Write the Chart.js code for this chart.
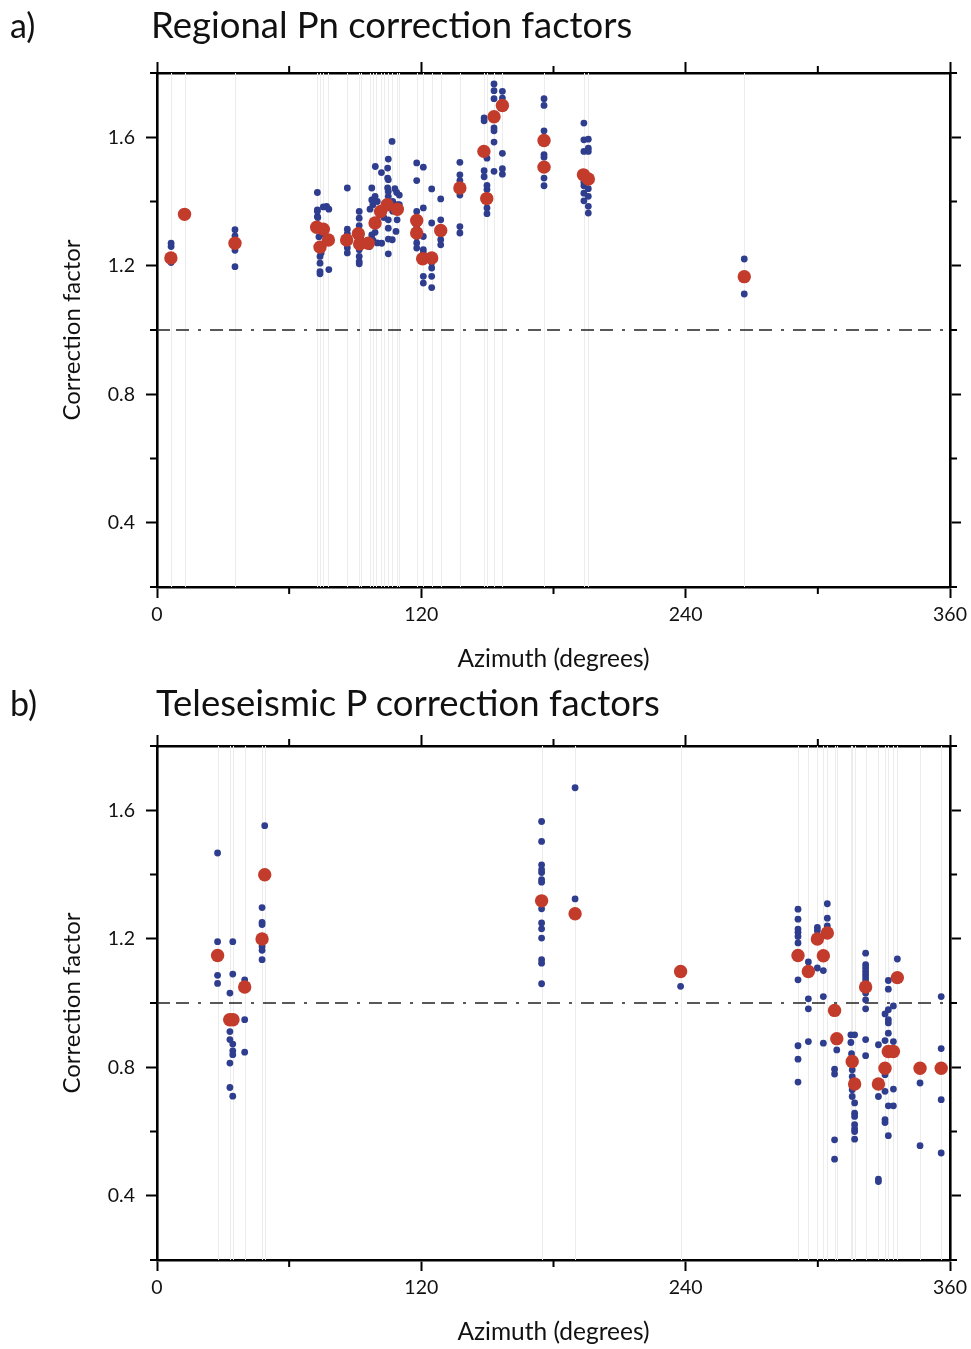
<!DOCTYPE html>
<html>
<head>
<meta charset="utf-8">
<script src="https://cdn.jsdelivr.net/npm/chart.js@4.4.0/dist/chart.umd.min.js"></script>
<style>
  body { margin: 0; background: #fff; font-family: Lato, sans-serif; }
  #page { position: relative; width: 971px; height: 1349px; }
  .panel { position: absolute; left: 0; width: 971px; height: 674px; }
  .panel canvas { position: absolute; left: 0; top: 0; }
  .letter, .heading { position: absolute; color: #111; white-space: nowrap; line-height: 1; }
  .letter { font-size: 34px; }
  .heading { font-size: 36.5px; }
</style>
</head>
<body>
<div id="page">
  <div class="panel" style="top:0">
    <canvas id="pnChart" width="971" height="674"></canvas>
    <div class="letter" style="left:10px;top:8px">a)</div>
    <div class="heading" style="left:151px;top:6px">Regional Pn correction factors</div>
  </div>
  <div class="panel" style="top:673px">
    <canvas id="pChart" width="971" height="674"></canvas>
    <div class="letter" style="left:10px;top:13px">b)</div>
    <div class="heading" style="left:156px;top:11px">Teleseismic P correction factors</div>
  </div>
</div>

<script>
// [azimuth, factor] per measurement, and station averages
const pnObs = [
  [6.4,1.27],[6.4,1.26],[6.4,1.21],
  [35.4,1.312],[35.4,1.293],[35.4,1.248],[35.4,1.197],
  [72.8,1.428],[72.8,1.374],[72.8,1.353],[72.8,1.37],[73,1.35],[75.5,1.383],[78,1.376],[77,1.385],
  [74.5,1.24],[74,1.229],[74,1.208],[74,1.182],[74,1.175],[78,1.188],[75.5,1.30],[73.5,1.29],[76,1.27],
  [86.4,1.442],[86.4,1.314],[86.4,1.256],[86.4,1.24],[86.4,1.30],
  [91.8,1.369],[91.8,1.348],[91.8,1.325],[91.8,1.25],[91.8,1.229],[91.8,1.213],[91.8,1.206],[92.5,1.29],[92.5,1.26],
  [96.7,1.376],[97.5,1.442],[99.1,1.509],[101.9,1.49],[97.5,1.405],[98,1.39],[100,1.40],[97.5,1.296],
  [96.5,1.26],[100,1.271],[98,1.28],[99,1.416],[101,1.36],[102,1.27],[99,1.304],
  [106.7,1.587],[105,1.532],[104.7,1.504],[104.7,1.473],[105,1.468],[104.7,1.442],[105,1.431],[105,1.416],
  [105,1.343],[105,1.317],[105,1.283],[105,1.237],[107,1.40],[107,1.37],
  [108.8,1.428],[109,1.39],[109.5,1.37],[109,1.343],[108.5,1.307],[106.8,1.281],[110,1.42],[108,1.44],[110,1.39],[103,1.35],[103,1.38],
  [117.9,1.52],[117.9,1.465],[117.9,1.369],[117.9,1.271],[117.9,1.255],[117.9,1.29],[117.9,1.32],
  [120.9,1.507],[120.9,1.38],[120.9,1.291],[120.9,1.167],[120.9,1.146],[120.9,1.25],[120.9,1.24],
  [124.7,1.439],[124.7,1.333],[124.7,1.193],[124.7,1.167],[124.7,1.132],[124.7,1.21],
  [128.8,1.408],[128.8,1.343],[128.8,1.281],[128.8,1.265],[128.8,1.30],
  [137.5,1.522],[137.5,1.483],[137.5,1.465],[137.5,1.42],[137.5,1.322],[137.5,1.302],
  [148.5,1.66],[148.5,1.651],[149.8,1.535],[148.5,1.496],[148.5,1.477],[149.8,1.437],[149.8,1.38],[149.8,1.362],[149.8,1.45],
  [153,1.766],[153,1.745],[153,1.72],[153,1.629],[153,1.62],[153,1.585],[153,1.494],
  [156.8,1.743],[156.8,1.722],[156.8,1.55],[156.8,1.502],[156.8,1.485],
  [175.7,1.72],[175.7,1.699],[175.7,1.62],[175.7,1.546],[175.7,1.538],[175.7,1.473],[175.7,1.449],
  [193.8,1.644],[193.8,1.592],[193.8,1.556],[193.8,1.449],[193.8,1.426],[193.8,1.402],[193.8,1.46],
  [195.8,1.594],[195.8,1.566],[195.8,1.556],[195.8,1.416],[195.8,1.385],[195.8,1.364],[195.8,1.44],
  [266.6,1.221],[266.6,1.112]
];
const pnMean = [
  [6.3,1.224],[12.5,1.36],[35.4,1.27],
  [72.5,1.32],[75.5,1.314],[77.8,1.28],[74,1.258],
  [86.1,1.28],[91.4,1.30],[92,1.268],[95.9,1.27],
  [99,1.333],[101.5,1.369],[104.5,1.39],[109.1,1.376],
  [117.9,1.341],[117.9,1.302],[120.6,1.222],[124.7,1.224],[128.8,1.31],[137.5,1.442],
  [148.4,1.556],[149.7,1.409],[153,1.664],[156.8,1.699],
  [175.7,1.59],[175.7,1.507],[193.6,1.483],[195.8,1.47],[266.6,1.166]
];
const pnStations = [
  6.4, 12.5, 35.4, 72.8, 74, 75.5, 77.8, 86.4, 91.8, 92.5, 96.7, 98, 99.5, 101.5,
  103, 105, 106.7, 108.8, 110, 117.9, 120.9, 124.7, 128.8, 137.5, 148.5, 149.8,
  153, 156.8, 175.7, 193.8, 195.8, 266.6
];

const pObs = [
  [27.5,1.467],[27.5,1.191],[27.5,1.086],[27.5,1.061],
  [34.4,1.191],[34.4,1.09],[33.1,1.031],[33.1,0.911],[33.1,0.886],[34.4,0.872],[34.4,0.851],[34.4,0.839],[33.1,0.813],[33.1,0.737],[34.4,0.71],
  [39.8,1.072],[39.8,0.948],[39.8,0.847],
  [48.9,1.552],[47.7,1.297],[47.7,1.251],[47.7,1.244],[47.7,1.176],[47.7,1.164],[47.7,1.135],
  [174.6,1.565],[174.6,1.503],[174.6,1.43],[174.6,1.415],[174.6,1.406],[174.6,1.384],[174.6,1.376],[174.6,1.293],
  [174.6,1.249],[174.6,1.231],[174.6,1.202],[174.6,1.135],[174.6,1.124],[174.6,1.06],
  [189.8,1.67],[189.8,1.324],
  [237.7,1.052],
  [291,1.292],[291,1.261],[291,1.23],[291,1.22],[291,1.207],[291,1.187],[291,1.072],[291,0.867],[291,0.825],[291,0.754],
  [295.7,1.128],[295.7,1.013],[295.7,0.982],[295.7,0.88],
  [299.8,1.235],[299.8,1.225],[299.8,1.109],
  [302.5,1.101],[302.5,1.02],[302.5,0.875],
  [304.3,1.309],[304.3,1.264],[304.3,1.24],
  [307.6,0.794],[307.6,0.779],[307.6,0.574],[307.6,0.514],
  [308.6,0.854],
  [315,0.901],[316.7,0.901],[315,0.877],[315.3,0.842],[315.6,0.792],[315.6,0.771],[315.6,0.73],[315.6,0.709],
  [316.7,0.689],[316.7,0.657],[316.7,0.647],[316.7,0.621],[316.7,0.608],[316.7,0.6],[316.7,0.576],
  [321.7,1.155],[321.7,1.119],[321.7,1.109],[321.7,1.098],[321.7,1.088],[321.7,1.078],[321.7,1.067],
  [321.7,1.031],[321.7,1.01],[321.7,0.982],[321.7,0.886],[321.7,0.836],
  [327.5,0.87],[327.5,0.709],[327.5,0.452],[327.5,0.444],
  [332,1.07],[332,1.043],[330.5,0.966],[332,0.979],[332,0.948],[332,0.938],[332,0.906],[330.5,0.883],
  [330.5,0.777],[330.5,0.725],[332,0.68],[330.5,0.637],[330.5,0.628],[332,0.587],
  [334.3,0.991],[334.3,0.88],[334.3,0.732],[334.3,0.68],
  [336.1,1.137],
  [346.4,0.751],[346.4,0.556],
  [356,1.02],[356,0.858],[356,0.699],[356,0.533]
];
const pMean = [
  [27.5,1.148],[33,0.948],[34.5,0.948],[39.8,1.05],[48.9,1.399],[47.7,1.199],
  [174.6,1.318],[189.8,1.278],[237.7,1.098],
  [291,1.148],[295.7,1.098],[299.8,1.199],[302.5,1.147],[304.3,1.218],[307.6,0.977],[308.6,0.889],
  [315.6,0.818],[316.7,0.748],[321.7,1.05],[327.5,0.748],[330.5,0.797],[332,0.849],[334.3,0.849],
  [336.1,1.079],[346.4,0.797],[356,0.797]
];
const pStations = [
  27.5, 33.1, 34.4, 39.8, 47.7, 48.9, 174.6, 189.8, 237.7, 291, 295.7, 299.8,
  302.5, 304.3, 307.6, 308.6, 315, 315.6, 316.7, 321.7, 327.5, 330.5, 332, 334.3,
  336.1, 346.4, 356
];

const azMajor = [0, 120, 240, 360];
const azMinor = [60, 180, 300];
const cfMajor = [0.4, 0.8, 1.2, 1.6];
const cfMinor = [0.2, 0.6, 1.0, 1.4, 1.8];
const cfReference = 1.0;

const BLUE = '#2f3d8e';
const RED = '#c23b2b';
const FONT = 'Lato, sans-serif';

const toXY = arr => arr.map(p => ({ x: p[0], y: p[1] }));
const isMajor = (list, v) => list.some(m => Math.abs(m - v) < 1e-6);

// faint vertical line at every station azimuth
const stationLines = {
  id: 'stationLines',
  beforeDatasetsDraw(chart, args, opts) {
    const { ctx, chartArea: a } = chart;
    const xs = chart.scales.x;
    ctx.save();
    ctx.strokeStyle = '#ececec';
    ctx.lineWidth = 1;
    ctx.beginPath();
    opts.azimuths.forEach(v => {
      const px = Math.round(xs.getPixelForValue(v)) + 0.5;
      ctx.moveTo(px, a.top);
      ctx.lineTo(px, a.bottom);
    });
    ctx.stroke();
    ctx.restore();
  }
};

// shorter outward ticks between the labelled ones, on all four sides
const minorTicks = {
  id: 'minorTicks',
  afterDraw(chart) {
    const { ctx, chartArea: a } = chart;
    ctx.save();
    ctx.strokeStyle = '#000';
    ctx.lineWidth = 2;
    ctx.beginPath();
    azMinor.forEach(v => {
      const px = chart.scales.x.getPixelForValue(v);
      ctx.moveTo(px, a.bottom); ctx.lineTo(px, a.bottom + 7);
      ctx.moveTo(px, a.top); ctx.lineTo(px, a.top - 7);
    });
    cfMinor.forEach(v => {
      const py = chart.scales.y.getPixelForValue(v);
      ctx.moveTo(a.left, py); ctx.lineTo(a.left - 7, py);
      ctx.moveTo(a.right, py); ctx.lineTo(a.right + 7, py);
    });
    ctx.stroke();
    ctx.restore();
  }
};

function axisGrid(major) {
  return {
    drawOnChartArea: false,
    drawTicks: true,
    tickLength: 11,
    tickWidth: 2,
    tickColor: c => (c.tick && isMajor(major, c.tick.value)) ? '#000' : 'rgba(0,0,0,0)'
  };
}

function makeChart(id, obs, means, stations) {
  const ctx = document.getElementById(id).getContext('2d');
  const border = { display: true, color: '#000', width: 2.6 };
  return new Chart(ctx, {
    type: 'scatter',
    data: {
      datasets: [
        {
          label: 'station mean',
          data: toXY(means),
          backgroundColor: RED,
          borderWidth: 0,
          pointRadius: 6.7,
          order: 1
        },
        {
          label: 'measurement',
          data: toXY(obs),
          backgroundColor: BLUE,
          borderWidth: 0,
          pointRadius: 3.4,
          order: 2
        },
        {
          label: 'reference',
          data: [{ x: azMajor[0], y: cfReference }, { x: azMajor[azMajor.length - 1], y: cfReference }],
          showLine: true,
          borderColor: '#222',
          borderWidth: 1.6,
          borderDash: [13, 6, 13, 9, 3, 9],
          pointRadius: 0,
          order: 3
        }
      ]
    },
    options: {
      responsive: false,
      animation: false,
      layout: { padding: 0 },
      plugins: {
        legend: { display: false },
        tooltip: { enabled: false },
        stationLines: { azimuths: stations }
      },
      scales: {
        x: {
          type: 'linear',
          position: 'bottom',
          min: 0,
          max: 360,
          afterBuildTicks: s => { s.ticks = azMajor.concat(azMinor).map(v => ({ value: v })); },
          afterFit: s => { s.height = 87; },
          ticks: {
            autoSkip: false,
            maxRotation: 0,
            padding: 5,
            color: '#111',
            font: { family: FONT, size: 19.5 },
            callback: v => isMajor(azMajor, v) ? String(v) : ''
          },
          grid: axisGrid(azMajor),
          border: border,
          title: {
            display: true,
            text: 'Azimuth (degrees)',
            color: '#111',
            font: { family: FONT, size: 24.5 },
            padding: { top: 1, bottom: 0 }
          }
        },
        xTop: {
          type: 'linear',
          position: 'top',
          min: 0,
          max: 360,
          afterBuildTicks: s => { s.ticks = azMajor.concat(azMinor).map(v => ({ value: v })); },
          afterFit: s => { s.height = 73; },
          ticks: { autoSkip: false, maxRotation: 0, callback: () => '' },
          grid: axisGrid(azMajor),
          border: border
        },
        y: {
          type: 'linear',
          position: 'left',
          min: 0.2,
          max: 1.8,
          afterBuildTicks: s => { s.ticks = cfMajor.concat(cfMinor).map(v => ({ value: v })); },
          afterFit: s => { s.width = 157; },
          ticks: {
            autoSkip: false,
            padding: 11,
            color: '#111',
            font: { family: FONT, size: 19.5 },
            callback: v => isMajor(cfMajor, v) ? v.toFixed(1) : ''
          },
          grid: axisGrid(cfMajor),
          border: border,
          title: {
            display: true,
            text: 'Correction factor',
            color: '#111',
            font: { family: FONT, size: 24 },
            padding: { top: 58, bottom: 0 }
          }
        },
        yRight: {
          type: 'linear',
          position: 'right',
          min: 0.2,
          max: 1.8,
          afterBuildTicks: s => { s.ticks = cfMajor.concat(cfMinor).map(v => ({ value: v })); },
          afterFit: s => { s.width = 21; },
          ticks: { autoSkip: false, callback: () => '' },
          grid: axisGrid(cfMajor),
          border: border
        }
      }
    },
    plugins: [stationLines, minorTicks]
  });
}

makeChart('pnChart', pnObs, pnMean, pnStations);
makeChart('pChart', pObs, pMean, pStations);
</script>
</body>
</html>
